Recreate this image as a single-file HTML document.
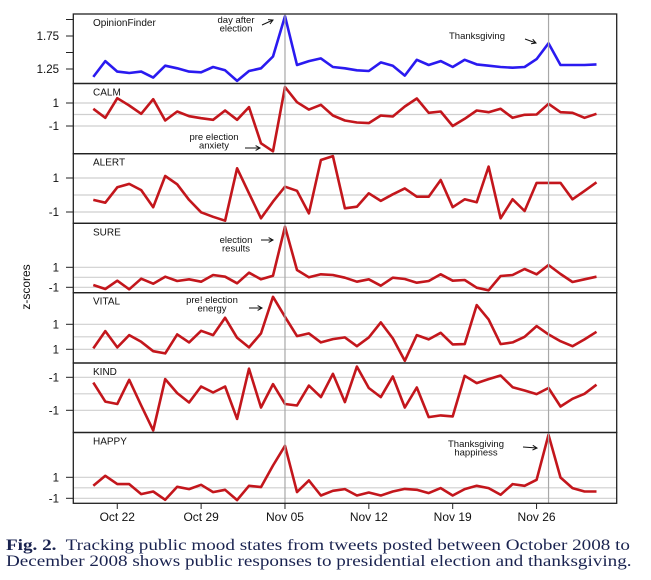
<!DOCTYPE html>
<html><head><meta charset="utf-8"><style>
html,body{margin:0;padding:0;background:#fff;}
body{width:651px;height:580px;overflow:hidden;position:relative;}
svg{position:absolute;left:0;top:0;}
.cap{position:absolute;left:6px;top:538px;font-family:"Liberation Serif",serif;font-size:16px;line-height:16px;color:#1a2350;}
.cap div{white-space:nowrap;transform-origin:0 0;width:max-content;}
</style></head><body>
<svg id="chart" width="651" height="535"></svg>
<div class="cap" id="cap"><div><b>Fig. 2.</b>&nbsp; Tracking public mood states from tweets posted between October 2008 to</div><div>December 2008 shows public responses to presidential election and thanksgiving.</div></div>
<script>
const panelNames = ["OpinionFinder","CALM","ALERT","SURE","VITAL","KIND","HAPPY"];
const opinionFinder = [1.13,1.37,1.21,1.19,1.21,1.12,1.30,1.26,1.21,1.20,1.28,1.23,1.07,1.22,1.26,1.44,2.05,1.31,1.37,1.41,1.28,1.26,1.23,1.22,1.35,1.30,1.15,1.39,1.31,1.37,1.28,1.39,1.32,1.30,1.28,1.27,1.28,1.40,1.64,1.31,1.31,1.31,1.32];
const calm = [0.5,-0.29,1.42,0.78,0.06,1.33,-0.52,0.26,-0.15,-0.32,-0.46,0.35,-0.46,0.64,-2.5,-3.2,2.38,1.07,0.43,0.84,-0.09,-0.52,-0.7,-0.75,-0.09,-0.17,0.7,1.39,0.15,0.26,-1.0,-0.37,0.35,0.2,0.5,-0.29,-0.03,0,0.93,0.2,0.15,-0.29,0.06];
const alert_ = [-0.29,-0.45,0.45,0.65,0.29,-0.72,1.12,0.63,-0.29,-1.02,-1.28,-1.51,1.57,0.1,-1.37,-0.39,0.49,0.25,-1.08,2.06,2.29,-0.78,-0.69,0.1,-0.35,0.04,0.39,-0.1,-0.1,0.88,-0.72,-0.25,-0.43,1.67,-1.37,-0.25,-0.94,0.71,0.71,0.71,-0.25,0.24,0.75];
const sure = [-0.77,-1.17,-0.34,-1.2,-0.14,-0.64,0.06,-0.37,-0.2,-0.44,0.23,0.06,-0.6,0.46,-0.2,0.16,5.06,0.73,0,0.3,0.23,-0.04,-0.44,-0.2,-0.84,-0.04,-0.17,-0.54,-0.37,0.3,-0.34,-0.27,-1.04,-1.3,0.13,0.23,0.83,0.3,1.23,0.33,-0.47,-0.2,0.06];
const vital = [-0.93,0.46,-0.85,0.14,-0.4,-1.15,-1.33,0.19,-0.45,0.48,0.14,1.52,-0.08,-0.85,0.27,3.2,1.6,0.06,0.27,-0.45,-0.18,-0.05,-0.75,-0.05,1.15,-0.13,-1.92,0.14,-0.21,0.32,-0.61,-0.58,2.54,1.39,-0.58,-0.45,0,0.86,0.19,-0.35,-0.75,-0.21,0.4];
const kind = [0.68,-0.47,-0.62,0.85,-0.71,-2.22,0.89,0.04,-0.53,0.44,0.08,0.44,-1.52,1.52,-0.83,0.59,-0.62,-0.71,0.5,-0.2,1.21,-0.5,1.65,0.35,-0.2,1.05,-0.83,0.38,-1.41,-1.31,-1.37,1.09,0.65,0.89,1.11,0.4,0.2,-0.02,0.35,-0.77,-0.3,0,0.55];
const happy = [0.19,1.14,0.35,0.35,-0.6,-0.35,-1.14,0.1,-0.12,0.29,-0.41,-0.19,-1.17,0.19,0.07,2.12,4.0,-0.41,0.7,-0.73,-0.29,-0.12,-0.73,-0.45,-0.73,-0.35,-0.1,-0.19,-0.5,-0.03,-0.73,-0.12,0.19,-0.03,-0.67,0.35,0.19,0.76,5.05,0.98,-0.03,-0.35,-0.35];
const xTickLabels = ["Oct 22","Oct 29","Nov 05","Nov 12","Nov 19","Nov 26"];
const xTickIndex = [2,9,16,23,30,37];
const ofTickValues = [2.0,1.75,1.5,1.25];
const ofTickLabels = ["","1.75","","1.25"];
const zTickValues = [1,-1];
const vitalTickLabels = ["1","1"];
const kindTickLabels = ["-1","-1"];
const stdTickLabels = ["1","-1"];
const eventIndex = [16,38];

const svg = document.getElementById('chart');
const NS = 'http://www.w3.org/2000/svg';
function mk(tag, attrs){const e=document.createElementNS(NS,tag);for(const k in attrs)e.setAttribute(k,attrs[k]);svg.appendChild(e);return e;}
const L=73.3,R=616.7;
function xScale(i){return 93.3+11.98*i;}
const frames=[[14,83.5,1.25,69,1.75,36],[83.5,153.7,1,103,-1,126],[153.7,223.3,1,178,-1,212],[223.3,292.7,1,267.3,-1,287.3],[292.7,363,1,324.3,-1,349.3],[363,432.5,1,377.3,-1,410.3],[432.5,503.3,1,477.3,-1,498.3]];
const series=[opinionFinder,calm,alert_,sure,vital,kind,happy];
const tickSets=[[ofTickValues,ofTickLabels],[zTickValues,stdTickLabels],[zTickValues,stdTickLabels],[zTickValues,stdTickLabels],[zTickValues,vitalTickLabels],[zTickValues,kindTickLabels],[zTickValues,stdTickLabels]];
const F='"Liberation Sans",sans-serif';
frames.forEach((f,p)=>{
  const [t,b,va,pa,vb,pb]=f;
  const y=v=>pa+(v-va)*(pb-pa)/(vb-va);
  if(p>0){[-1,0,1].forEach(g=>{const l=mk('line',{x1:L,x2:R,y1:y(g),y2:y(g),stroke:'#cfcfcf','stroke-width':1.2});
    
    });}
  const [tv,tl]=tickSets[p];
  tv.forEach((v,k)=>{const tk=mk('line',{x1:66,x2:L,y1:y(v),y2:y(v),stroke:'#222','stroke-width':1});
    
    
    if(tl[k]){const tx=mk('text',{x:59,y:y(v)+4,'text-anchor':'end','font-family':F,'font-size':11.5,fill:'#111'});tx.textContent=tl[k];
      
      }});
  const lab=mk('text',{x:93,y:t+12,'font-family':F,'font-size':10,fill:'#111'});lab.textContent=panelNames[p];
  
  
  const d=series[p].map((v,i)=>(i?'L':'M')+xScale(i).toFixed(1)+' '+y(v).toFixed(1)).join(' ');
  const path=mk('path',{d:d,fill:'none',stroke:p===0?'#2a1af0':'#c3161c','stroke-width':2.6,'stroke-linejoin':'round'});
  
  
});
eventIndex.forEach(i=>{const l=mk('line',{x1:xScale(i),x2:xScale(i),y1:14,y2:503.3,stroke:'#a8a8a8','stroke-width':1.2});
  
  });
frames.forEach(f=>{const r=mk('rect',{x:L,y:f[0],width:R-L,height:f[1]-f[0],fill:'none',stroke:'#222','stroke-width':1.3});
  
  });
xTickIndex.forEach((i,k)=>{const x=xScale(i);
  const tk=mk('line',{x1:x,x2:x,y1:503.3,y2:509,stroke:'#222','stroke-width':1});
  
  
  const t=mk('text',{x:x,y:521,'text-anchor':'middle','font-family':F,'font-size':12,fill:'#111'});t.textContent=xTickLabels[k];
  
  });
const yt=mk('text',{x:0,y:0,transform:'translate(30,287) rotate(-90)','text-anchor':'middle','font-family':F,'font-size':12,fill:'#111'});yt.textContent='z-scores';


const notes=[[["day after","election"],236,23,[262,25,273,20]],[["Thanksgiving"],477,39,[525,39,536,43]],[["pre election","anxiety"],214,140,[245,148,260,148]],[["election","results"],236,243,[261,240,273,240]],[["pre! election","energy"],212,303,[249,308,262,308]],[["Thanksgiving","happiness"],476,447,[523,447,537,448]]];
notes.forEach(n=>{n[0].forEach((s,k)=>{const t=mk('text',{x:n[1],y:n[2]+k*8.5,'text-anchor':'middle','font-family':F,'font-size':9.5,fill:'#111'});t.textContent=s;
  
  });
  const [x1,y1,x2,y2]=n[3];const a=Math.atan2(y2-y1,x2-x1);
  const g=mk('path',{d:`M${x1} ${y1} L${x2} ${y2} M${x2-5*Math.cos(a-0.5)} ${y2-5*Math.sin(a-0.5)} L${x2} ${y2} L${x2-5*Math.cos(a+0.5)} ${y2-5*Math.sin(a+0.5)}`,stroke:'#111',fill:'none','stroke-width':1});
  
  });
// fit caption width to reference (~624px)
const lines=document.querySelectorAll('#cap div');
const w0=lines[0].getBoundingClientRect().width;
const s=624/w0;
lines.forEach(l=>{l.style.transform='scaleX('+s+')';});
</script>
</body></html>
